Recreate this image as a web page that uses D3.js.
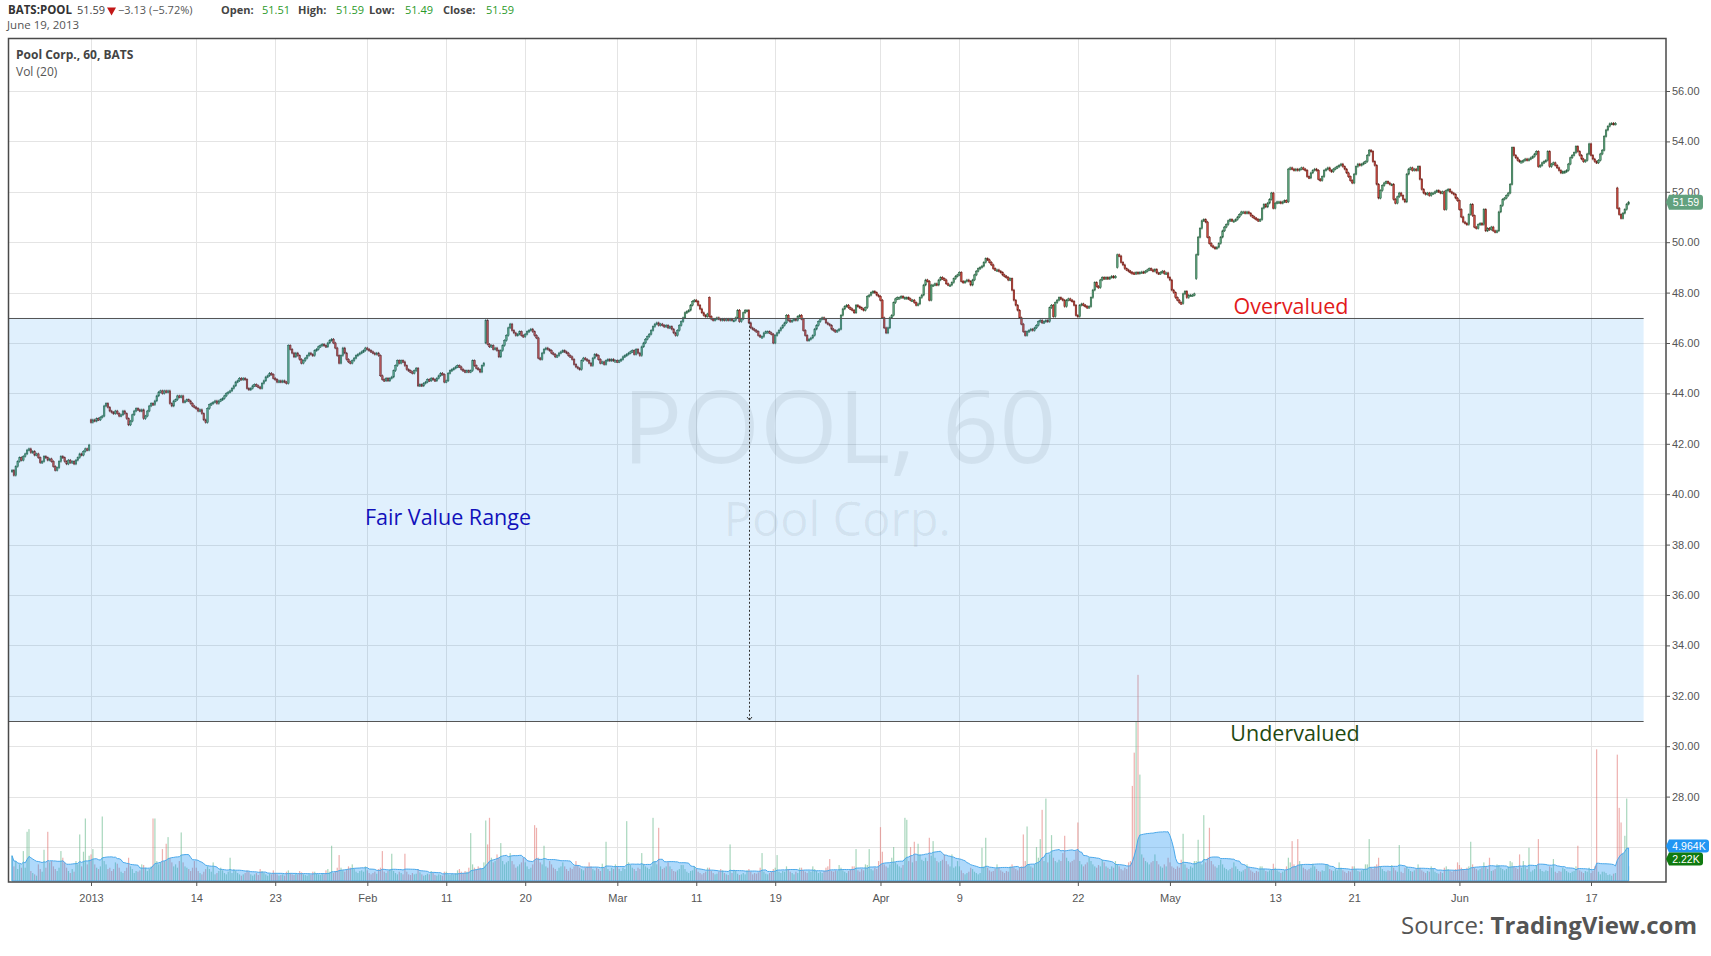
<html>
<head>
  <meta charset="UTF-8">
  <script src="https://cdn.jsdelivr.net/npm/d3@7"></script>
  <style>
  html, body { margin: 0; padding: 0; background: #fff; }
  svg { display: block; }
  .axis text { font-family: 'Liberation Sans', Arial, sans-serif; font-size: 11px; fill: #555; }
  .axis line { stroke: #555; }
  .axis path { display: none; }
  </style>
</head>
<body>
<div id="chart"></div>
<script>

// ---- data (hourly bars, 7 per session) ----

const days = [
  '2012-12-21','2012-12-24','2012-12-26','2012-12-27','2012-12-28','2012-12-31',
  '2013-01-02','2013-01-03','2013-01-04','2013-01-07','2013-01-08','2013-01-09','2013-01-10','2013-01-11',
  '2013-01-14','2013-01-15','2013-01-16','2013-01-17','2013-01-18','2013-01-22','2013-01-23','2013-01-24',
  '2013-01-25','2013-01-28','2013-01-29','2013-01-30','2013-01-31',
  '2013-02-01','2013-02-04','2013-02-05','2013-02-06','2013-02-07','2013-02-08','2013-02-11','2013-02-12',
  '2013-02-13','2013-02-14','2013-02-15','2013-02-19','2013-02-20','2013-02-21','2013-02-22','2013-02-25',
  '2013-02-26','2013-02-27','2013-02-28',
  '2013-03-01','2013-03-04','2013-03-05','2013-03-06','2013-03-07','2013-03-08','2013-03-11','2013-03-12',
  '2013-03-13','2013-03-14','2013-03-15','2013-03-18','2013-03-19','2013-03-20','2013-03-21','2013-03-22',
  '2013-03-25','2013-03-26','2013-03-27','2013-03-28',
  '2013-04-01','2013-04-02','2013-04-03','2013-04-04','2013-04-05','2013-04-08','2013-04-09','2013-04-10',
  '2013-04-11','2013-04-12','2013-04-15','2013-04-16','2013-04-17','2013-04-18','2013-04-19','2013-04-22',
  '2013-04-23','2013-04-24','2013-04-25','2013-04-26','2013-04-29','2013-04-30',
  '2013-05-01','2013-05-02','2013-05-03','2013-05-06','2013-05-07','2013-05-08','2013-05-09','2013-05-10',
  '2013-05-13','2013-05-14','2013-05-15','2013-05-16','2013-05-17','2013-05-20','2013-05-21','2013-05-22',
  '2013-05-23','2013-05-24','2013-05-28','2013-05-29','2013-05-30','2013-05-31',
  '2013-06-03','2013-06-04','2013-06-05','2013-06-06','2013-06-07','2013-06-10','2013-06-11','2013-06-12',
  '2013-06-13','2013-06-14','2013-06-17','2013-06-18','2013-06-19'
];
const barsPerDay = 7;

// hourly closes, one session per line
const closes = [
  40.95, 40.75, 41.1, 41.3, 41.45, 41.35, 41.5,
  41.6, 41.75, 41.8, 41.65, 41.7, 41.55, 41.6,
  41.45, 41.25, 41.3, 41.5, 41.45, 41.35, 41.4,
  41.3, 41.1, 40.95, 41.05, 41.3, 41.5, 41.45,
  41.3, 41.2, 41.35, 41.25, 41.3, 41.2, 41.35,
  41.45, 41.6, 41.55, 41.7, 41.8, 41.75, 41.95,
  42.85, 42.95, 42.9, 43.0, 42.95, 43.05, 43.1,
  43.5, 43.6, 43.45, 43.3, 43.25, 43.2, 43.3,
  43.2, 43.1, 43.15, 43.3, 43.2, 43.0, 42.75,
  42.9, 43.15, 43.3, 43.4, 43.35, 43.3, 43.35,
  43.0, 43.1, 43.3, 43.5, 43.6, 43.55, 43.7,
  43.9, 44.05, 44.1, 44.0, 44.1, 44.05, 44.1,
  43.6, 43.5, 43.7, 43.75, 43.9, 43.85, 43.9,
  43.65, 43.7, 43.75, 43.7, 43.6, 43.5, 43.45,
  43.4, 43.3, 43.35, 43.2, 42.95, 42.85, 43.4,
  43.55, 43.6, 43.65, 43.7, 43.6, 43.7, 43.75,
  43.8, 43.9, 44.0, 44.05, 44.1, 44.2, 44.3,
  44.45, 44.5, 44.6, 44.55, 44.6, 44.55, 44.2,
  44.15, 44.2, 44.3, 44.35, 44.3, 44.25, 44.2,
  44.4, 44.5, 44.65, 44.7, 44.8, 44.75, 44.6,
  44.55, 44.45, 44.5, 44.45, 44.5, 44.45, 44.4,
  45.9, 45.75, 45.6, 45.45, 45.6, 45.5, 45.35,
  45.2, 45.3, 45.4, 45.5, 45.6, 45.55, 45.5,
  45.7, 45.75, 45.85, 45.9, 45.95, 45.9, 45.85,
  46.0, 46.1, 46.15, 46.0, 45.8, 45.5, 45.2,
  45.5, 45.8, 45.6, 45.35, 45.25, 45.2, 45.3,
  45.4, 45.5, 45.55, 45.6, 45.65, 45.7, 45.8,
  45.75, 45.7, 45.65, 45.6, 45.55, 45.6, 45.5,
  44.7, 44.55, 44.5, 44.6, 44.5, 44.6, 44.65,
  44.9, 45.1, 45.3, 45.2, 45.3, 45.25, 45.1,
  44.95, 44.9, 44.85, 44.8, 44.9, 45.0, 44.3,
  44.35, 44.3, 44.4, 44.45, 44.55, 44.5, 44.6,
  44.55, 44.5, 44.6, 44.7, 44.8, 44.75, 44.45,
  44.5, 44.8, 44.9, 44.95, 45.0, 45.05, 45.1,
  45.05, 44.95, 44.9, 44.85, 44.9, 44.85, 44.9,
  45.3, 45.1, 45.0, 44.95, 44.85, 45.1, 45.2,
  46.9, 45.95, 45.85, 45.9, 45.75, 45.8, 45.7,
  45.45, 45.7, 45.9, 46.1, 46.3, 46.6, 46.75,
  46.5, 46.4, 46.3, 46.35, 46.45, 46.3, 46.25,
  46.35, 46.45, 46.5, 46.55, 46.45, 46.3, 46.2,
  45.4, 45.35, 45.6, 45.75, 45.8, 45.75, 45.7,
  45.6, 45.55, 45.45, 45.5, 45.6, 45.65, 45.7,
  45.65, 45.6, 45.5, 45.45, 45.35, 45.15, 45.05,
  45.0, 44.95, 45.3, 45.4, 45.35, 45.3, 45.2,
  45.1, 45.4, 45.55, 45.5, 45.35, 45.2, 45.25,
  45.15, 45.3, 45.35, 45.3, 45.35, 45.3, 45.3,
  45.25, 45.3, 45.35, 45.45, 45.5, 45.55, 45.6,
  45.65, 45.7, 45.55, 45.75, 45.6, 45.5, 45.85,
  46.0, 46.15, 46.25, 46.35, 46.5, 46.65, 46.75,
  46.8, 46.7, 46.75, 46.7, 46.65, 46.7, 46.6,
  46.65, 46.55, 46.4, 46.3, 46.5, 46.7, 46.85,
  47.0, 47.2, 47.25, 47.3, 47.5, 47.65, 47.7,
  47.65, 47.5, 47.35, 47.2, 47.1, 47.05, 47.15,
  47.05, 46.95, 46.9, 46.95, 47.0, 46.95, 46.9,
  46.95, 46.9, 46.95, 46.9, 46.95, 46.9, 46.9,
  47.0, 47.3, 46.85, 46.95, 47.2, 47.3, 47.3,
  46.8, 46.6, 46.55, 46.5, 46.45, 46.3, 46.25,
  46.25, 46.4, 46.45, 46.45, 46.4, 46.35, 46.0,
  46.3, 46.4, 46.5, 46.6, 46.7, 46.8, 47.1,
  46.9, 46.85, 46.9, 46.95, 46.9, 47.05, 47.1,
  46.95, 46.5, 46.3, 46.1, 46.15, 46.2, 46.3,
  46.55, 46.7, 46.85, 46.95, 47.0, 46.95, 46.8,
  46.75, 46.7, 46.55, 46.5, 46.45, 46.5, 46.55,
  47.1, 47.35, 47.45, 47.5, 47.4, 47.35, 47.3,
  47.2, 47.5, 47.45, 47.4, 47.35, 47.3, 47.4,
  47.85, 47.9, 48.0, 48.05, 48.0, 47.9, 47.85,
  47.7, 47.0, 46.6, 46.4, 46.6, 47.0, 47.1,
  47.6, 47.75, 47.8, 47.8, 47.85, 47.8, 47.8,
  47.8, 47.75, 47.7, 47.7, 47.6, 47.5, 47.55,
  47.8, 47.9, 48.3, 48.5, 48.45, 47.7, 48.3,
  48.3, 48.35, 48.3, 48.5, 48.6, 48.55, 48.5,
  48.35, 48.3, 48.3, 48.4, 48.55, 48.65, 48.7,
  48.8, 48.45, 48.4, 48.45, 48.5, 48.45, 48.3,
  48.5, 48.7, 48.85, 48.95, 49.0, 49.05, 49.2,
  49.35, 49.3, 49.2, 49.1, 48.95, 48.9, 48.9,
  48.85, 48.8, 48.7, 48.65, 48.6, 48.5, 48.55,
  48.1, 47.7, 47.5, 47.3, 47.0, 46.75, 46.45,
  46.3, 46.45, 46.5, 46.55, 46.5, 46.6, 46.7,
  46.85, 46.9, 46.8, 46.85, 46.9, 46.85, 47.4,
  47.5, 47.05, 47.6, 47.7, 47.8, 47.75, 47.7,
  47.45, 47.7, 47.75, 47.7, 47.65, 47.5, 47.1,
  47.05, 47.5, 47.55, 47.5, 47.45, 47.4, 47.45,
  47.8, 48.1, 48.4, 48.25, 48.2, 48.5, 48.6,
  48.55, 48.6, 48.55, 48.6, 48.65, 48.6, 48.65,
  49.5, 49.45, 49.2, 49.1, 48.95, 48.9, 48.85,
  48.8, 48.78, 48.75, 48.8, 48.78, 48.8, 48.82,
  48.8, 48.85, 48.9, 48.95, 48.9, 48.85, 48.92,
  48.78, 48.75, 48.8, 48.85, 48.75, 48.78, 48.6,
  48.5, 48.1, 48.0, 47.8, 47.7, 47.6, 47.57,
  47.95, 48.05, 47.8, 47.9, 47.9, 47.9, 47.95,
  49.5, 50.2, 50.55, 50.85, 50.9, 50.8, 50.2,
  49.95, 49.85, 49.8, 49.75, 49.8, 49.95, 50.2,
  50.45, 50.6, 50.7, 50.85, 50.9, 50.85, 50.85,
  50.9, 51.0, 51.1, 51.2, 51.2, 51.15, 51.2,
  51.15, 51.05, 51.0, 50.95, 50.9, 50.85, 50.9,
  51.35, 51.5, 51.4, 51.55, 51.7, 51.95, 51.35,
  51.55, 51.6, 51.6, 51.55, 51.6, 51.65, 51.6,
  52.9, 52.95, 52.9, 52.85, 52.9, 52.85, 52.9,
  52.95, 52.9, 52.85, 52.6, 52.55, 52.75, 52.85,
  52.9, 52.85, 52.5, 52.45, 52.6, 52.85, 52.9,
  52.95, 52.85, 52.8, 52.9, 52.95, 53.0, 53.05,
  53.1, 53.0, 52.9, 52.75, 52.6, 52.45, 52.35,
  52.7, 53.0, 53.1, 53.05, 53.1, 53.15, 53.2,
  53.45, 53.65, 53.6, 53.2, 53.05, 52.3, 51.75,
  52.05, 52.25, 52.35, 52.4, 52.35, 52.3, 52.3,
  51.7, 51.55, 51.8, 51.95, 51.85, 51.7, 51.6,
  52.7, 52.9, 52.95, 52.85, 52.9, 52.85, 53.0,
  52.5, 52.1, 51.95, 51.9, 51.95, 51.85, 51.95,
  51.95, 52.0, 52.05, 52.0, 51.95, 52.0, 51.3,
  52.05, 52.1, 52.0, 51.95, 51.9, 51.75, 51.65,
  51.3, 51.0, 50.8, 50.75, 50.7, 51.1, 51.5,
  51.05, 50.6, 50.55, 50.7, 50.75, 50.7, 51.3,
  50.45, 50.55, 50.5, 50.6, 50.45, 50.4, 50.45,
  51.2, 51.45, 51.7, 51.75, 51.85, 51.95, 52.3,
  53.75, 53.45, 53.35, 53.25, 53.2, 53.2, 53.25,
  53.3, 53.25, 53.3, 53.35, 53.4, 53.5, 53.6,
  53.0, 53.05, 53.15, 53.2, 53.25, 53.6, 53.0,
  53.1, 53.15, 53.05, 52.95, 52.85, 52.75, 52.8,
  52.8, 52.85, 53.1, 53.35, 53.45, 53.55, 53.8,
  53.6, 53.45, 53.3, 53.2, 53.25, 53.5, 53.9,
  53.45, 53.3, 53.2, 53.15, 53.25, 53.5, 53.65,
  54.2, 54.45, 54.6, 54.7, 54.72, 54.68, 54.72,
  51.35, 51.1, 50.95, 51.15, 51.3, 51.51, 51.59
];

// sessions that opened away from the prior close
const gapDays  = ['2012-12-21', '2013-01-02', '2013-02-14', '2013-03-12', '2013-04-25', '2013-05-03', '2013-06-19'];
const gapOpens = [40.9, 42.95, 46.0, 47.8, 49.0, 48.55, 52.15];

// hourly volume, hundreds of shares
const volumes = [
  38, 22, 30, 18, 25, 20, 45,
  20, 74, 78, 15, 12, 10, 8,
  25, 18, 14, 47, 20, 74, 28,
  30, 22, 18, 15, 20, 45, 35,
  28, 20, 15, 12, 18, 14, 30,
  25, 70, 22, 44, 94, 25, 38,
  40, 48, 25, 20, 18, 22, 97,
  30, 25, 18, 20, 15, 18, 28,
  26, 20, 14, 12, 15, 20, 35,
  22, 18, 12, 15, 14, 16, 25,
  24, 20, 15, 18, 22, 94, 94,
  30, 25, 28, 48, 30, 56, 66,
  35, 28, 22, 25, 20, 30, 73,
  28, 22, 20, 18, 15, 20, 30,
  20, 15, 12, 10, 14, 18, 22,
  18, 14, 28, 10, 12, 15, 20,
  16, 12, 10, 14, 35, 12, 18,
  15, 12, 10, 8, 10, 12, 16,
  14, 10, 8, 10, 12, 9, 18,
  15, 12, 10, 8, 11, 10, 16,
  12, 10, 8, 9, 10, 8, 14,
  16, 12, 10, 9, 11, 10, 15,
  13, 10, 9, 8, 10, 9, 14,
  14, 11, 10, 9, 12, 10, 16,
  18, 14, 53, 12, 15, 20, 39,
  20, 16, 14, 18, 22, 20, 25,
  18, 14, 12, 15, 16, 14, 22,
  16, 12, 10, 12, 14, 11, 18,
  20, 45, 14, 12, 15, 18, 41,
  15, 12, 10, 14, 12, 10, 41,
  14, 10, 9, 12, 10, 11, 18,
  13, 10, 8, 9, 11, 10, 15,
  12, 9, 8, 10, 9, 8, 14,
  14, 10, 9, 11, 10, 12, 16,
  18, 14, 12, 15, 14, 20, 72,
  25, 20, 18, 22, 20, 18, 28,
  91, 55, 95, 35, 28, 30, 40,
  35, 57, 30, 25, 28, 30, 42,
  30, 25, 20, 22, 25, 28, 35,
  28, 22, 18, 20, 25, 84, 80,
  35, 28, 25, 53, 22, 20, 30,
  25, 20, 18, 15, 20, 22, 28,
  22, 18, 15, 20, 18, 22, 30,
  24, 20, 18, 16, 20, 22, 28,
  22, 18, 16, 20, 18, 15, 26,
  20, 59, 18, 15, 20, 18, 25,
  22, 18, 15, 20, 18, 90, 28,
  24, 20, 18, 15, 20, 18, 42,
  26, 22, 20, 18, 22, 95, 30,
  25, 80, 22, 18, 20, 22, 28,
  22, 18, 15, 14, 16, 18, 24,
  24, 18, 14, 12, 15, 16, 22,
  18, 14, 12, 10, 12, 14, 20,
  20, 15, 12, 10, 11, 14, 18,
  16, 12, 10, 9, 55, 12, 17,
  15, 11, 9, 10, 12, 10, 16,
  18, 14, 10, 12, 11, 13, 20,
  42, 14, 11, 10, 12, 14, 18,
  20, 39, 14, 12, 15, 14, 22,
  18, 14, 12, 10, 14, 12, 20,
  20, 16, 14, 12, 15, 14, 22,
  18, 15, 12, 14, 12, 15, 20,
  22, 33, 15, 14, 16, 15, 24,
  20, 16, 14, 12, 15, 18, 22,
  22, 48, 16, 14, 18, 16, 25,
  24, 48, 18, 16, 20, 18, 30,
  81, 44, 25, 22, 20, 25, 35,
  51, 28, 25, 22, 20, 24, 95,
  92, 30, 51, 28, 59, 30, 56,
  40, 32, 30, 35, 30, 65, 38,
  60, 35, 30, 28, 30, 32, 40,
  30, 25, 22, 40, 20, 22, 30,
  22, 16, 12, 10, 12, 14, 20,
  18, 14, 12, 10, 12, 50, 22,
  65, 20, 16, 14, 15, 18, 25,
  20, 16, 14, 12, 15, 14, 22,
  25, 20, 18, 16, 20, 22, 70,
  30, 82, 25, 22, 20, 25, 51,
  35, 63, 107, 30, 124, 28, 40,
  69, 35, 30, 28, 32, 30, 42,
  68, 35, 30, 28, 30, 32, 45,
  88, 30, 25, 22, 25, 28, 35,
  30, 25, 22, 20, 24, 22, 32,
  28, 22, 20, 18, 22, 20, 30,
  25, 22, 18, 16, 20, 18, 28,
  30, 143, 193, 240, 310, 160, 40,
  35, 30, 28, 25, 28, 30, 40,
  30, 25, 22, 20, 25, 22, 35,
  28, 22, 20, 18, 22, 20, 32,
  71, 25, 20, 18, 22, 20, 30,
  30, 62, 28, 25, 99, 28, 35,
  80, 30, 25, 22, 20, 24, 32,
  25, 20, 18, 16, 18, 20, 28,
  22, 18, 15, 14, 16, 18, 25,
  20, 16, 14, 12, 15, 14, 22,
  22, 18, 15, 14, 16, 18, 26,
  20, 16, 14, 12, 14, 16, 22,
  35, 28, 60, 25, 22, 63, 30,
  25, 20, 18, 16, 18, 20, 26,
  22, 18, 15, 14, 16, 15, 24,
  24, 18, 16, 15, 18, 16, 28,
  20, 16, 14, 12, 15, 14, 22,
  22, 18, 15, 14, 16, 18, 25,
  25, 63, 20, 18, 22, 25, 35,
  22, 18, 15, 14, 16, 15, 24,
  20, 16, 14, 54, 14, 12, 20,
  22, 18, 15, 14, 16, 18, 25,
  20, 16, 14, 12, 15, 14, 22,
  18, 14, 12, 11, 14, 12, 20,
  22, 18, 15, 14, 16, 18, 28,
  24, 20, 18, 16, 20, 22, 59,
  25, 20, 18, 16, 18, 20, 28,
  22, 18, 35, 15, 16, 18, 25,
  24, 20, 18, 16, 18, 22, 30,
  28, 22, 20, 18, 40, 20, 30,
  22, 18, 50, 14, 16, 18, 24,
  63, 18, 15, 14, 16, 15, 22,
  20, 33, 14, 12, 15, 14, 20,
  18, 15, 13, 12, 14, 15, 22,
  53, 16, 14, 12, 15, 14, 20,
  12, 15, 22, 198, 14, 10, 14,
  14, 12, 9, 10, 8, 11, 12,
  190, 110, 88, 41, 68, 124, 22.2
];

const tickDates  = ['2013-01-02','2013-01-14','2013-01-23','2013-02-01','2013-02-11','2013-02-20','2013-03-01','2013-03-11',
                    '2013-03-19','2013-04-01','2013-04-09','2013-04-22','2013-05-01','2013-05-13','2013-05-21','2013-06-03','2013-06-17'];
const tickLabels = ['2013','14','23','Feb','11','20','Mar','11','19','Apr','9','22','May','13','21','Jun','17'];
const priceTicks = [28, 30, 32, 34, 36, 38, 40, 42, 44, 46, 48, 50, 52, 54, 56];
const gridPrices = [26, 28, 30, 32, 34, 36, 38, 40, 42, 44, 46, 48, 50, 52, 54, 56];

const fairValueRange = [31, 47];          // undervalued below, overvalued above
const rangeBars = [-2, 868];              // where the drawn box starts and ends
const measureDay = '2013-03-15';          // dashed measuring line
const volMaLength = 20;
const volMaLast = 4.964;                  // K, as printed on the axis badge
const lastVolume = 2.22;                  // K

// ---- layout ----

const W = 1711, H = 956;
const plot = { left: 8.5, right: 1666, top: 38.5, bottom: 882 };

const svg = d3.select('#chart').append('svg')
  .attr('width', W).attr('height', H)
  .style('font-family', "'Open Sans', sans-serif");

svg.append('rect').attr('width', W).attr('height', H).attr('fill', '#fff');

const x = d3.scaleLinear().domain([42, 840]).range([91, 1591]);
const y = d3.scaleLinear().domain([28, 56]).range([796.6, 91]);
const vy = d3.scaleLinear().domain([0, 400]).range([881, 615]);

const dayBar = d => days.indexOf(d) * barsPerDay;

// build bars
const bars = closes.map((c, i) => {
  const day = days[Math.floor(i / barsPerDay)];
  let open;
  const g = gapDays.indexOf(day);
  if (i % barsPerDay === 0 && g >= 0) open = gapOpens[g];
  else open = closes[i - 1];
  return { i, open, close: c, vol: volumes[i] || 0 };
});
bars.forEach((b, i) => {
  const lo = Math.max(0, i - volMaLength + 1);
  b.ma = d3.mean(bars.slice(lo, i + 1), d => d.vol);
});

svg.append('clipPath').attr('id', 'plotClip')
  .append('rect')
  .attr('x', plot.left).attr('y', plot.top)
  .attr('width', plot.right - plot.left).attr('height', plot.bottom - plot.top);

const body = svg.append('g').attr('clip-path', 'url(#plotClip)');

// grid
body.append('g').selectAll('line.h').data(gridPrices).join('line')
  .attr('x1', plot.left).attr('x2', plot.right)
  .attr('y1', d => Math.round(y(d)) + 0.5).attr('y2', d => Math.round(y(d)) + 0.5)
  .attr('stroke', '#e4e4e4');
const tickBars = tickDates.map(dayBar);
body.append('g').selectAll('line.v').data(tickBars).join('line')
  .attr('x1', d => Math.round(x(d)) + 0.5).attr('x2', d => Math.round(x(d)) + 0.5)
  .attr('y1', plot.top).attr('y2', plot.bottom)
  .attr('stroke', '#e4e4e4');

// watermark
const mid = (plot.left + plot.right) / 2 + 2;
body.append('text').text('POOL, 60')
  .attr('x', mid).attr('y', 463).attr('text-anchor', 'middle')
  .attr('font-size', 100).attr('fill', '#000').attr('fill-opacity', 0.065);
body.append('text').text('Pool Corp.')
  .attr('x', mid - 2).attr('y', 536).attr('text-anchor', 'middle')
  .attr('font-size', 47).attr('fill', '#000').attr('fill-opacity', 0.065);

// volume
body.append('g').selectAll('rect').data(bars).join('rect')
  .attr('x', d => x(d.i) - 0.6)
  .attr('width', 1.2)
  .attr('y', d => vy(d.vol))
  .attr('height', d => vy(0) - vy(d.vol))
  .attr('fill', d => d.close >= d.open ? '#5fb585' : '#e0706c')
  .attr('fill-opacity', 0.55);

const maArea = d3.area().x(d => x(d.i)).y0(vy(0)).y1(d => vy(d.ma));
body.append('path').datum(bars)
  .attr('d', maArea)
  .attr('fill', '#2196f3').attr('fill-opacity', 0.36)
  .attr('stroke', '#4aa8ea').attr('stroke-width', 1);

// candles: thin wick through the body, body with darker outline
const up = d => d.close >= d.open;
const candles = body.append('g');
candles.selectAll('line').data(bars).join('line')
  .attr('x1', d => x(d.i)).attr('x2', d => x(d.i))
  .attr('y1', d => y(Math.max(d.open, d.close)) - 1.2)
  .attr('y2', d => y(Math.min(d.open, d.close)) + 1.2)
  .attr('stroke', d => up(d) ? '#2b5e40' : '#6a1f19').attr('stroke-width', 0.8);
candles.selectAll('rect').data(bars).join('rect')
  .attr('x', d => x(d.i) - 0.8)
  .attr('width', 1.6)
  .attr('y', d => y(Math.max(d.open, d.close)))
  .attr('height', d => Math.max(1.6, Math.abs(y(d.open) - y(d.close))))
  .attr('fill', d => up(d) ? '#5ea57d' : '#c8493f')
  .attr('stroke', d => up(d) ? '#2b5e40' : '#6a1f19')
  .attr('stroke-width', 0.5);

// fair value box drawn on top
const rx0 = x(rangeBars[0]), rx1 = x(rangeBars[1]);
body.append('rect')
  .attr('x', rx0).attr('width', rx1 - rx0)
  .attr('y', y(fairValueRange[1])).attr('height', y(fairValueRange[0]) - y(fairValueRange[1]))
  .attr('fill', '#2196f3').attr('fill-opacity', 0.14);
body.append('g').selectAll('line').data(fairValueRange).join('line')
  .attr('x1', rx0).attr('x2', rx1)
  .attr('y1', d => Math.round(y(d)) + 0.5).attr('y2', d => Math.round(y(d)) + 0.5)
  .attr('stroke', '#555').attr('stroke-width', 1.2);

const mx = Math.round(x(dayBar(measureDay))) + 0.5;
body.append('line')
  .attr('x1', mx).attr('x2', mx)
  .attr('y1', y(fairValueRange[1])).attr('y2', y(fairValueRange[0]) - 1)
  .attr('stroke', '#333').attr('stroke-dasharray', '2,2');
body.append('path')
  .attr('d', `M${mx - 2.5},${y(fairValueRange[0]) - 4} L${mx},${y(fairValueRange[0]) - 1} L${mx + 2.5},${y(fairValueRange[0]) - 4}`)
  .attr('fill', 'none').attr('stroke', '#333');

// annotation labels
svg.append('text').text('Fair Value Range')
  .attr('x', 448).attr('y', 525).attr('text-anchor', 'middle')
  .attr('font-size', 21.5).attr('fill', '#1111bb');
svg.append('text').text('Overvalued')
  .attr('x', 1291).attr('y', 314).attr('text-anchor', 'middle')
  .attr('font-size', 21.5).attr('fill', '#e21b1b');
svg.append('text').text('Undervalued')
  .attr('x', 1295).attr('y', 741).attr('text-anchor', 'middle')
  .attr('font-size', 21.5).attr('fill', '#1f4a12');

// frame
svg.append('rect')
  .attr('x', plot.left).attr('y', plot.top)
  .attr('width', plot.right - plot.left).attr('height', plot.bottom - plot.top)
  .attr('fill', 'none').attr('stroke', '#4a4a4a').attr('stroke-width', 1.5);

// axes
svg.append('g').attr('class', 'axis')
  .attr('transform', `translate(${plot.right},0)`)
  .call(d3.axisRight(y).tickValues(priceTicks).tickFormat(d3.format('.2f')).tickSize(4).tickPadding(2));
svg.append('g').attr('class', 'axis')
  .attr('transform', `translate(0,${plot.bottom})`)
  .call(d3.axisBottom(x).tickValues(tickBars).tickFormat((d, i) => tickLabels[i]).tickSize(4).tickPadding(8));

// price badge
const last = bars[bars.length - 1];
function badge(yc, w, h, fill, label) {
  const g = svg.append('g');
  g.append('path')
    .attr('d', `M${plot.right},${yc} L${plot.right + 3},${yc - h / 2} H${plot.right + w - 3} Q${plot.right + w},${yc - h / 2} ${plot.right + w},${yc - h / 2 + 3} V${yc + h / 2 - 3} Q${plot.right + w},${yc + h / 2} ${plot.right + w - 3},${yc + h / 2} H${plot.right + 3} Z`)
    .attr('fill', fill);
  g.append('text').text(label)
    .attr('x', plot.right + 3 + (w - 3) / 2).attr('y', yc + 3.6)
    .attr('text-anchor', 'middle')
    .attr('font-family', "'Liberation Sans', Arial, sans-serif")
    .attr('font-size', 10.5).attr('fill', '#fff');
}
badge(y(last.close), 37, 15, '#62a17e', d3.format('.2f')(last.close));
const maY = vy(volMaLast * 10);
badge(maY - 2, 43, 13, '#2196f3', volMaLast + 'K');
badge(maY - 2 + 13, 37, 13, '#107a10', lastVolume + 'K');

// header
const head = svg.append('g').attr('font-size', 11);
function seg(xp, yp, text, color, bold) {
  return head.append('text').text(text).attr('x', xp).attr('y', yp)
    .attr('fill', color).attr('font-weight', bold ? 700 : 400);
}
seg(8, 14, 'BATS:POOL', '#333', true).attr('font-size', 11.5);
seg(77, 14, '51.59', '#444', false);
head.append('path').attr('d', 'M107,7.5 L116,7.5 L111.5,15.5 Z').attr('fill', '#c21717');
seg(118, 14, '\u22123.13 (\u22125.72%)', '#555', false);
seg(221, 14, 'Open:', '#444', true);
seg(262, 14, '51.51', '#2a9a2a', false);
seg(298, 14, 'High:', '#444', true);
seg(336, 14, '51.59', '#2a9a2a', false);
seg(369, 14, 'Low:', '#444', true);
seg(405, 14, '51.49', '#2a9a2a', false);
seg(443, 14, 'Close:', '#444', true);
seg(486, 14, '51.59', '#2a9a2a', false);
seg(7, 29, 'June 19, 2013', '#555', false).attr('font-size', 11.5);

seg(16, 59, 'Pool Corp., 60, BATS', '#444', true).attr('font-size', 12);
seg(16, 76, 'Vol (20)', '#555', false).attr('font-size', 12);

// source line
const src = svg.append('text')
  .attr('x', 1697).attr('y', 934).attr('text-anchor', 'end')
  .attr('font-size', 24).attr('fill', '#555');
src.append('tspan').text('Source: ');
src.append('tspan').text('TradingView.com').attr('font-weight', 700);

</script>
</body>
</html>
